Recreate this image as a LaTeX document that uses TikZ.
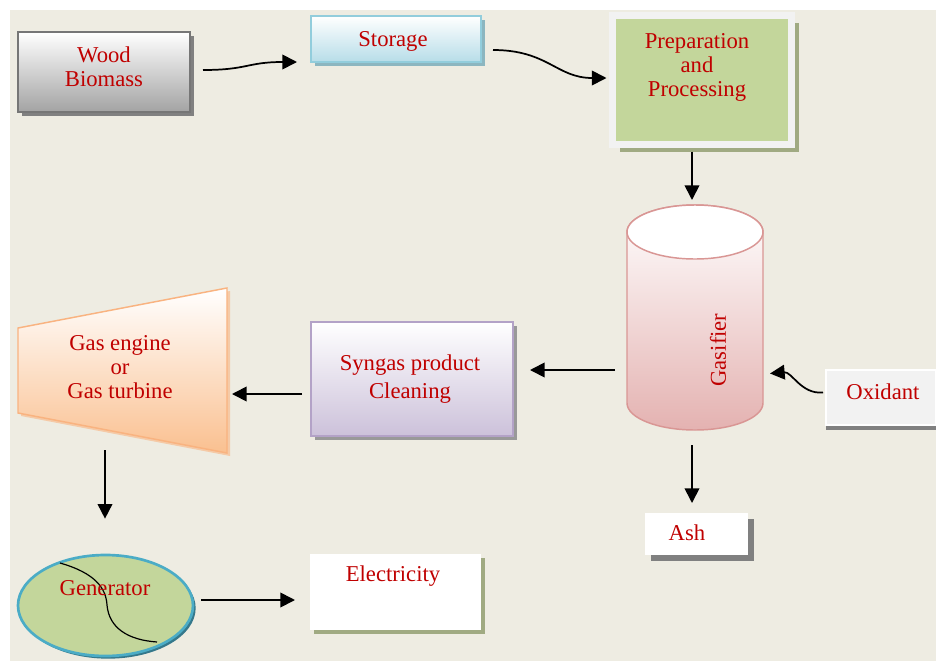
\documentclass[tikz,border=0pt]{standalone}
\usepackage{fontspec}
\setmainfont{Liberation Serif}
\usetikzlibrary{positioning,calc,arrows.meta,shapes.geometric,shadows}

\definecolor{bgbeige}{RGB}{238,236,226}
\definecolor{txtred}{RGB}{192,0,0}
\definecolor{woodgray}{RGB}{163,163,163}
\definecolor{woodline}{RGB}{118,118,118}
\definecolor{storblue}{RGB}{183,221,232}
\definecolor{storline}{RGB}{146,205,220}
\definecolor{prepgreen}{RGB}{195,214,155}
\definecolor{prepframe}{RGB}{242,242,242}
\definecolor{olivegray}{RGB}{160,170,130}
\definecolor{gaspink}{RGB}{228,178,177}
\definecolor{gasline}{RGB}{217,150,148}
\definecolor{synlilac}{RGB}{204,193,218}
\definecolor{synline}{RGB}{179,162,199}
\definecolor{engpeach}{RGB}{250,192,144}
\definecolor{engline}{RGB}{249,179,128}
\definecolor{genblue}{RGB}{75,172,198}

\tikzset{
  box/.style={rectangle, inner sep=0pt, outer sep=0pt},
  shade gray/.style={drop shadow={shadow xshift=3pt, shadow yshift=-3pt, fill=#1, opacity=1}},
  boxtext/.style={text=txtred, font=\fontsize{17}{18}\selectfont, align=center, inner sep=0.75pt},
  flow/.style={-{Triangle[length=11pt,width=11pt]}, line width=1.3pt},
}

\begin{document}
\begin{tikzpicture}[x=0.75pt,y=0.75pt,yscale=-1,xscale=1]
	\useasboundingbox (0,0) rectangle (936,661);
	%Shape: Background
	\fill[bgbeige] (10,10) rectangle (936,661);

	%Shape: Rectangle
	\node [box, draw=woodline, line width=1.5pt, top color=white, bottom color=woodgray, shade gray=gray, minimum width=129pt, minimum height=60pt] (wood) at (104,72) {};
	%Shape: Rectangle
	\node [box, draw=storline, line width=1.1pt, top color=white, bottom color=storblue, shade gray=storline!70!gray, minimum width=127.5pt, minimum height=34.5pt] (storage) at (396,39) {};
	%Shape: Rectangle
	\node [box, draw=prepframe, line width=5.25pt, fill=prepgreen, drop shadow={shadow xshift=5.25pt, shadow yshift=-5.25pt, fill=olivegray, opacity=1}, minimum width=134.25pt, minimum height=96.75pt] (prep) at (702,80) {};

	%Shape: Can
	\node [box, minimum width=102pt, minimum height=168.75pt] (gas) at (695,317.5) {};
	\shade[top color=white, bottom color=gaspink, draw=gasline, line width=1.1pt] (627,232) -- (627,403) arc[start angle=180, end angle=0, x radius=68, y radius=27] -- (763,232) arc[start angle=0, end angle=-180, x radius=68, y radius=27] -- cycle;
	\draw[fill=white, draw=gasline, line width=1.1pt] (695,232) ellipse [x radius=68, y radius=27];

	%Shape: Rectangle
	\node [box, draw=white, line width=0.8pt, fill=prepframe, drop shadow={shadow xshift=0pt, shadow yshift=-4pt, fill=gray, opacity=1}, minimum width=82.5pt, minimum height=41.25pt] (ox) at (881,397.5) {};
	%Shape: Rectangle
	\node [box, draw=synline, line width=1.1pt, top color=white, bottom color=synlilac, shade gray=gray!80, minimum width=151.5pt, minimum height=85.5pt] (syn) at (412,379) {};

	%Shape: Trapezoid
	\node [box, minimum width=156.75pt, minimum height=125.25pt] (engine) at (122.5,371.5) {};
	\fill[engline!60!bgbeige] (21,331) -- (230,291) -- (230,456) -- (21,416) -- cycle;
	\shade[top color=white, bottom color=engpeach, draw=engline, line width=1.1pt] (18,328) -- (227,288) -- (227,453) -- (18,413) -- cycle;

	%Shape: Ellipse
	\node [ellipse, inner sep=0pt, draw=genblue, line width=2pt, fill=prepgreen, drop shadow={shadow xshift=2pt, shadow yshift=-2pt, fill=genblue!70!black, opacity=1}, minimum width=131.25pt, minimum height=75.75pt] (gen) at (105.5,605.5) {};
	\draw[line width=0.9pt] (60,563) .. controls (95,573) and (106,588) .. (107,605) .. controls (109,628) and (128,640) .. (157,642);

	%Shape: Rectangle
	\node [box, fill=white, shade gray=olivegray, minimum width=128.25pt, minimum height=57pt] (elec) at (395.5,592) {};
	%Shape: Rectangle
	\node [box, fill=white, drop shadow={shadow xshift=4.5pt, shadow yshift=-4.5pt, fill=gray, opacity=1}, minimum width=77.25pt, minimum height=31.5pt] (ash) at (696.5,534) {};

	% Text Node
	\node [boxtext] (woodtxt) at (104,67) {Wood\\Biomass};
	% Text Node
	\node [boxtext] (stortxt) at (393,41) {Storage};
	% Text Node
	\node [boxtext] (preptxt) at (697,67) {Preparation\\and\\Processing};
	% Text Node
	\node [boxtext, rotate=90] (gastxt) at (718,350) {Gasifier};
	% Text Node
	\node [boxtext] (oxtxt) at (883,392) {Oxidant};
	% Text Node
	\node [boxtext] (syntxt) at (410,379) {Syngas product\\[3pt]Cleaning};
	% Text Node
	\node [boxtext] (engtxt) at (120,367) {Gas engine\\or\\Gas turbine};
	% Text Node
	\node [boxtext] (gentxt) at (105,588) {Generator};
	% Text Node
	\node [boxtext] (electxt) at (393,576) {Electricity};
	% Text Node
	\node [boxtext] (ashtxt) at (687,533) {Ash};

	%Curve Lines
	\draw [flow] ($(wood.east)+(13,-2)$) .. controls +(45,0) and +(-50,0) .. ($(storage.south west)+(-14,0)$);
	\draw [flow] ($(storage.east)+(12,11)$) .. controls +(55,0) and +(-50,0) .. ($(prep.west)+(-6,-2)$);
	\draw [flow] ($(ox.west)+(-3,-5)$) .. controls +(-22,2) and +(22,-2) .. ($(gas.east)+(7,56)$);
	%Straight Lines
	\draw [flow] ($(prep.south)+(-10,7)$) -- ($(gas.north)+(-3,-5)$);
	\draw [flow] ($(gas.west)+(-12,52.5)$) -- ($(syn.east)+(17,-9)$);
	\draw [flow] ($(gas.south)+(-3,15)$) -- ($(ash.north)+(-4.5,-10)$);
	\draw [flow] ($(syn.west)+(-9,15)$) -- ($(engine.east)+(5,22.5)$);
	\draw [flow] ($(engine.south)+(-17.5,-5)$) -- ($(gen.north)+(-0.5,-35)$);
	\draw [flow] ($(gen.east)+(7,-5.5)$) -- ($(elec.west)+(-15,8)$);

\end{tikzpicture}
\end{document}
